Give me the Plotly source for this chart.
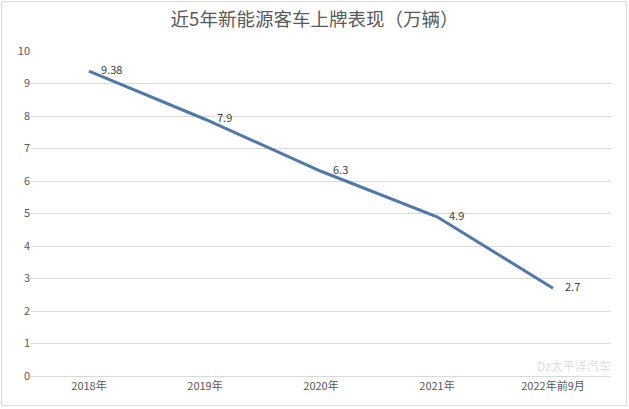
import plotly.graph_objects as go

categories = ["2018年", "2019年", "2020年", "2021年", "2022年前9月"]
values = [9.38, 7.9, 6.3, 4.9, 2.7]
labels = ["9.38", "7.9", "6.3", "4.9", "2.7"]
y_ticks = [0, 1, 2, 3, 4, 5, 6, 7, 8, 9, 10]

W, H = 629, 409
L, R, T, B = 31, 18, 51, 33
pw, ph = W - L - R, H - T - B

def px(x):
    return (x - L) / pw

def py(y):
    return (H - B - y) / ph

font = "Microsoft YaHei, Noto Sans CJK SC, sans-serif"

fig = go.Figure()
fig.add_trace(go.Scatter(
    x=categories, y=values, mode="lines",
    line=dict(color="#5078A8", width=3),
    hoverinfo="skip",
))

annotations = [dict(x=c, y=v, text=t, showarrow=False, xanchor="left", yanchor="middle",
                    xshift=10, yshift=2,
                    font=dict(size=11, color="#404040", family=font))
               for c, v, t in zip(categories, values, labels)]
annotations.append(dict(text="Dz太平洋汽车", xref="paper", yref="paper",
                        x=px(574), y=py(365), xanchor="center", yanchor="middle",
                        showarrow=False, borderpad=0,
                        font=dict(size=12, color="rgba(200,200,200,0.6)", family=font)))

fig.update_layout(
    width=W, height=H,
    margin=dict(l=L, r=R, t=T, b=B),
    paper_bgcolor="white", plot_bgcolor="white",
    showlegend=False,
    title=dict(text="近5年新能源客车上牌表现（万辆）", x=0.5, xanchor="center",
               y=1 - 20 / H, yanchor="middle",
               font=dict(size=18.5, color="#595959", family=font)),
    xaxis=dict(type="category", range=[-0.5, 4.5], showgrid=False,
               showline=True, linecolor="#D9D9D9", linewidth=1,
               ticks="", tickfont=dict(size=11, color="#595959", family=font),
               fixedrange=True),
    yaxis=dict(range=[0, 10], tickvals=y_ticks, showgrid=True,
               gridcolor="#D9D9D9", gridwidth=1, zeroline=False,
               ticks="", ticklen=0, tickfont=dict(size=11, color="#595959", family=font),
               fixedrange=True),
    shapes=[dict(type="rect", xref="paper", yref="paper",
                 x0=px(1.5), x1=px(626.5), y0=py(405.5), y1=py(1.5),
                 line=dict(color="#D9D9D9", width=1), fillcolor="rgba(0,0,0,0)",
                 layer="below")],
    annotations=annotations,
)

fig.write_html("out.html")
